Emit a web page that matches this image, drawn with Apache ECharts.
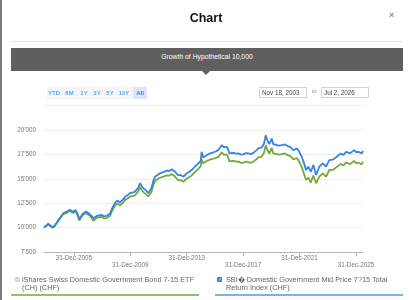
<!DOCTYPE html>
<html>
<head>
<meta charset="utf-8">
<script src="https://cdn.jsdelivr.net/npm/echarts@6/dist/echarts.min.js"></script>
<style>
  html, body { margin: 0; padding: 0; background: #fff; }
  body { width: 412px; height: 300px; position: relative; overflow: hidden; font-family: 'Liberation Sans', Arial, sans-serif; }
  #chart { position: absolute; left: 0; top: 0; width: 412px; height: 300px; }
  .abs { position: absolute; }
  .edge { left: 0; top: 0; width: 2px; height: 300px; background: #7d7d7d; }
  .title { left: 0; width: 412px; top: 11px; text-align: center; font-size: 12.5px; font-weight: bold; color: #111; }
  .close { left: 389px; top: 10px; font-size: 9px; color: #888; font-weight: bold; }
  .sep { left: 11px; top: 41px; width: 392px; height: 1px; background: #e2e2e2; }
  .banner { left: 11px; top: 48px; width: 392px; height: 23px; background: #5f5f5f; color: #fff; font-size: 6.8px; text-align: center; line-height: 17px; }
  .arrow { left: 202px; top: 71px; width: 0; height: 0; border-left: 4px solid transparent; border-right: 4px solid transparent; border-top: 4px solid #5f5f5f; }
  .ranges { left: 47px; top: 87px; width: 100px; height: 12px; background: #f3f5f8; }
  .rng { top: 0; height: 12px; line-height: 12px; font-size: 6px; font-weight: bold; color: #5aaae6; text-align: center; }
  .rng.on { background: #dde5f6; color: #3f7fd0; }
  .inp { top: 87px; height: 9px; border: 1px solid #d4d4d4; background: #fff; font-size: 6.3px; color: #444; line-height: 9px; padding-left: 2px; }
  .to { left: 312px; top: 88px; font-size: 5.5px; color: #888; }
  .sep2 { left: 44px; top: 105px; width: 319px; height: 1px; background: #eeeeee; }
  .leg { top: 276px; font-size: 7.3px; color: #666; line-height: 8.3px; }
  .box { top: 277px; width: 5px; height: 5px; border-radius: 1px; color: #fff; font-size: 5px; line-height: 5px; text-align: center; }
  .line { top: 294px; height: 1.5px; }
</style>
</head>
<body>
<div id="chart"></div>
<div class="abs edge"></div>
<div class="abs title">Chart</div>
<div class="abs close">×</div>
<div class="abs sep"></div>
<div class="abs banner">Growth of Hypothetical 10,000</div>
<div class="abs arrow"></div>
<div class="abs ranges">
  <div class="abs rng" style="left:0px;width:14px">YTD</div>
  <div class="abs rng" style="left:16px;width:13px">6M</div>
  <div class="abs rng" style="left:31px;width:12px">1Y</div>
  <div class="abs rng" style="left:44px;width:12px">3Y</div>
  <div class="abs rng" style="left:57px;width:12px">5Y</div>
  <div class="abs rng" style="left:70px;width:14px">10Y</div>
  <div class="abs rng on" style="left:86px;width:14px">All</div>
</div>
<div class="abs inp" style="left:259px;width:44px">Nov 18, 2003</div>
<div class="abs to">to</div>
<div class="abs inp" style="left:321px;width:44px">Jul 2, 2026</div>
<div class="abs sep2"></div>
<div class="abs box" style="left:15px;background:#d2d2d2">✓</div>
<div class="abs leg" style="left:22px;width:180px">iShares Swiss Domestic Government Bond 7-15 ETF<br>(CH) (CHF)</div>
<div class="abs line" style="left:11px;width:188px;background:#8fc06a"></div>
<div class="abs box" style="left:217px;background:#2f7fd8">✓</div>
<div class="abs leg" style="left:226px;width:180px">SBI� Domestic Government Mid Price 7?15 Total<br>Return Index (CHF)</div>
<div class="abs line" style="left:215px;width:188px;background:#7fb0e8"></div>
<script>
// sample dates
const dates = [
  '2003-11-18','2004-01-08','2004-03-08','2004-04-22','2004-06-20','2004-08-16','2004-10-12','2005-01-06',
  '2005-04-01','2005-06-23','2005-09-22','2005-12-01','2006-02-16','2006-04-04','2006-05-20','2006-07-03',
  '2006-08-16','2006-11-10','2007-02-04','2007-04-01','2007-05-17','2007-08-14','2007-10-12','2007-12-21',
  '2008-02-19','2008-04-29','2008-07-24','2008-09-01','2008-10-02','2008-12-01','2009-01-30','2009-04-10',
  '2009-07-03','2009-08-16','2009-11-02','2009-12-24','2010-03-11','2010-05-02','2010-07-19','2010-09-09',
  '2010-10-18','2010-12-03','2011-02-11','2011-04-11','2011-07-03','2011-08-19','2011-10-02','2011-12-06',
  '2012-02-09','2012-05-05','2012-07-31','2012-09-29','2012-12-08','2013-01-24','2013-03-04','2013-04-17',
  '2013-05-28','2013-07-24','2013-10-05','2013-11-18','2014-01-01','2014-03-01','2014-05-10','2014-08-04',
  '2014-10-28','2014-12-29','2015-01-20','2015-03-07','2015-04-19','2015-06-23','2015-08-27','2015-10-30',
  '2016-01-03','2016-03-29','2016-05-12','2016-06-26','2016-08-24','2016-11-02','2016-12-06','2017-01-09',
  '2017-02-22','2017-04-22','2017-07-01','2017-08-29','2017-11-08','2018-01-06','2018-03-16','2018-05-15',
  '2018-07-24','2018-09-22','2018-12-01','2019-01-30','2019-04-27','2019-06-26','2019-08-09','2019-09-19',
  '2019-11-10','2020-01-11','2020-02-22','2020-04-06','2020-05-20','2020-07-19','2020-09-27','2020-12-20',
  '2021-02-24','2021-04-29','2021-07-24','2021-10-20','2021-12-06','2022-01-14','2022-02-27','2022-04-27',
  '2022-06-18','2022-08-16','2022-10-18','2022-12-24','2023-03-04','2023-05-28','2023-08-24','2023-11-18',
  '2024-02-11','2024-05-26','2024-08-22','2024-12-03','2025-02-09','2025-04-19','2025-07-31','2025-11-12',
  '2026-01-03','2026-03-04','2026-05-31','2026-07-02'
]
// iShares ETF (green)
const etfValues = [
  10000,10140,10340,10180,9990,10120,10450,10920,11390,11510,11720,11500,11670,11280,10720,11010,
  11270,11490,11250,11030,10700,11010,11060,11110,10940,10980,11180,11580,11840,12260,12480,12270,
  12590,12840,13010,13170,13240,13310,13680,14160,13880,13640,13410,13180,13650,14360,14780,14950,
  15110,15230,15360,15320,15490,15410,15230,15090,14830,14880,14690,14860,15030,15150,15350,15710,
  16020,16290,17000,16590,16740,16870,16970,17030,17110,17250,17480,17720,17450,17500,17240,16780,
  16910,16840,16750,16760,16630,16640,16760,16720,16640,16760,16980,17190,17280,17670,18450,17980,
  17590,18160,17600,17460,17520,17480,17530,17600,17420,17340,16980,17130,16890,16750,16210,15500,
  14880,15120,14600,15340,14540,15220,15560,15220,15900,15950,16200,16530,16350,16680,16500,16830,
  16610,16650,16480,16750
]
// SBI index (blue)
const indexValues = [
  10000,10180,10390,10230,10050,10180,10520,11000,11480,11610,11820,11610,11790,11410,10870,11150,
  11410,11640,11410,11200,10970,11200,11260,11310,11150,11200,11410,11820,12090,12530,12770,12580,
  12910,13170,13350,13520,13600,13680,14060,14540,14270,14030,13810,13520,14060,14780,15210,15390,
  15560,15690,15830,15800,15970,15900,15720,15590,15340,15390,15210,15390,15560,15690,15900,16260,
  16580,16850,17770,17170,17330,17480,17600,17680,17770,17940,18190,18450,18210,18280,18040,17600,
  17730,17660,17580,17600,17480,17500,17630,17600,17530,17660,17890,18110,18210,18620,19470,18960,
  18550,19130,18550,18400,18450,18400,18450,18520,18350,18280,17940,18110,17890,17770,17260,16580,
  15900,16240,15720,16410,15390,16240,16580,16240,16920,16990,17260,17600,17430,17770,17600,17940,
  17730,17770,17600,17870
]
// x tick labels (31-Dec of these years)
const tickYears = [2005, 2009, 2013, 2017, 2021, 2025]

function toTime(s) {
  const p = s.split('-')
  return new Date(+p[0], +p[1] - 1, +p[2]).getTime()
}

const chart = echarts.init(document.getElementById('chart'))
const tickValues = tickYears.map(y => new Date(y, 11, 31).getTime())
const fontFamily = "'Liberation Sans', Arial, sans-serif"

chart.setOption({
  animation: false,
  grid: { left: 44, right: 49, top: 130, bottom: 48 },
  xAxis: {
    type: 'value',
    min: toTime('2003-11-18'),
    max: toTime('2026-07-02'),
    axisLine: { show: true, lineStyle: { color: '#b5b5b5', width: 1 } },
    axisTick: { show: true, length: 4, customValues: tickValues, lineStyle: { color: '#b5b5b5' } },
    splitLine: { show: false },
    axisLabel: {
      customValues: tickValues,
      margin: 3,
      fontSize: 6.3,
      lineHeight: 7,
      color: '#777',
      fontFamily: fontFamily,
      formatter: function (v) {
        const y = new Date(v).getFullYear()
        const s = '31-Dec-' + y
        return y % 8 === 1 ? '\n' + s : s
      }
    }
  },
  yAxis: {
    type: 'value',
    min: 7500,
    max: 20000,
    interval: 2500,
    axisLine: { show: false },
    axisTick: { show: false },
    splitLine: { lineStyle: { color: '#eeeeee', width: 1 } },
    axisLabel: {
      margin: 8,
      fontSize: 6.3,
      color: '#777',
      fontFamily: fontFamily,
      formatter: v => String(v).replace(/(\d)(\d{3})$/, "$1'$2")
    }
  },
  series: [
    {
      name: 'iShares Swiss Domestic Government Bond 7-15 ETF (CH) (CHF)',
      type: 'line',
      showSymbol: false,
      lineStyle: { color: '#74a83a', width: 1.8 },
      data: dates.map((d, i) => [toTime(d), etfValues[i]])
    },
    {
      name: 'SBI Domestic Government Mid Price 7-15 Total Return Index (CHF)',
      type: 'line',
      showSymbol: false,
      lineStyle: { color: '#3584e0', width: 1.8 },
      data: dates.map((d, i) => [toTime(d), indexValues[i]])
    }
  ]
})
</script>
</body>
</html>
